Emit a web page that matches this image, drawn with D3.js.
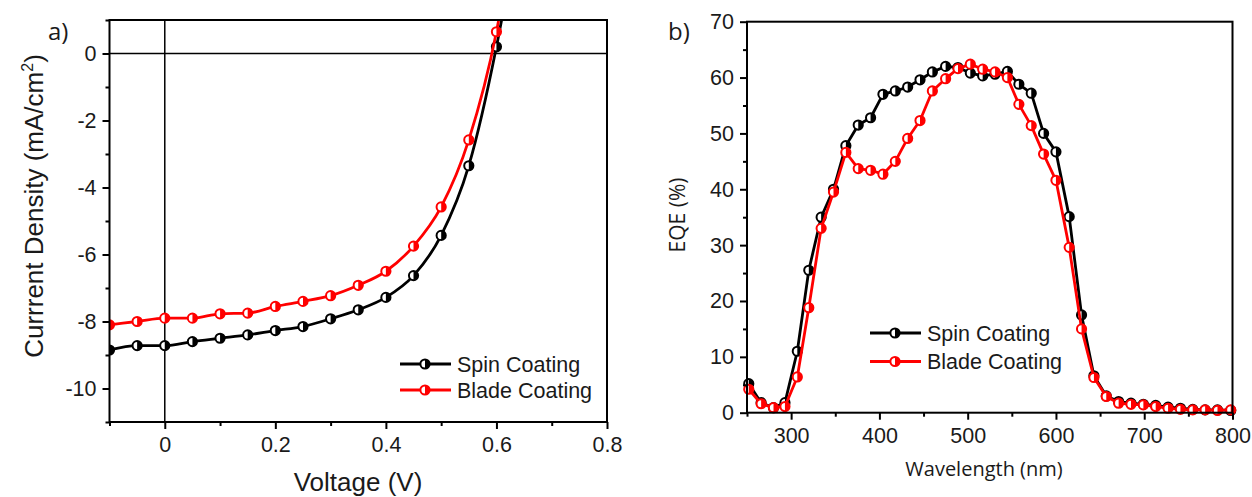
<!DOCTYPE html>
<html>
<head>
<meta charset="utf-8">
<script src="https://cdn.jsdelivr.net/npm/d3@7"></script>
<style>
  html, body { margin: 0; padding: 0; background: #fff; }
  svg { display: block; }
</style>
</head>
<body>
<script>
// ---- J–V data (panel a) ----
const voltage = [-0.1, -0.05, 0, 0.05, 0.1, 0.15, 0.2, 0.25, 0.3, 0.35, 0.4, 0.45, 0.5, 0.55, 0.6, 0.625];
const spinJ   = [-8.85, -8.72, -8.72, -8.6, -8.5, -8.4, -8.27, -8.15, -7.92, -7.65, -7.28, -6.63, -5.43, -3.35, 0.2, 2.4];
const bladeJ  = [-8.1, -8.0, -7.9, -7.9, -7.77, -7.75, -7.55, -7.4, -7.23, -6.92, -6.5, -5.75, -4.58, -2.58, 0.65, 3.0];
const jvMarkerMaxV = 0.6;

// ---- EQE data (panel b) ----
const wavelength = [252, 266, 280, 293, 307, 320, 334, 348, 362, 376, 390, 404, 418, 432, 446, 460, 475, 489, 503, 517,
                    531, 545, 558, 572, 586, 600, 615, 629, 643, 657, 671, 685, 699, 713, 727, 741, 755, 769, 783, 798];
const spinEQE  = [5.2, 1.8, 0.9, 1.8, 11.0, 25.5, 35.0, 40.0, 47.8, 51.5, 52.8, 57.0, 57.6, 58.3, 59.6, 61.0, 62.0, 61.8, 60.8, 60.3,
                  60.6, 61.1, 58.8, 57.2, 50.0, 46.7, 35.1, 17.5, 6.6, 3.0, 2.0, 1.7, 1.5, 1.3, 1.0, 0.8, 0.6, 0.5, 0.5, 0.4];
const bladeEQE = [4.2, 1.6, 0.9, 1.1, 6.4, 18.8, 33.0, 39.5, 46.6, 43.7, 43.4, 42.7, 45.0, 49.1, 52.3, 57.6, 59.8, 61.6, 62.4, 61.5,
                  61.0, 60.0, 55.2, 51.4, 46.3, 41.6, 29.6, 15.0, 6.3, 2.9, 1.7, 1.5, 1.4, 1.1, 0.8, 0.6, 0.5, 0.5, 0.4, 0.5];

// ---- axis ticks ----
const jvMajorX = [0, 0.2, 0.4, 0.6, 0.8];
const jvMinorX = [-0.1, 0.1, 0.3, 0.5, 0.7];
const jvMajorY = [0, -2, -4, -6, -8, -10];
const jvMinorY = [1, -1, -3, -5, -7, -9, -11];
const eqeMajorX = [300, 400, 500, 600, 700, 800];
const eqeMinorX = [250, 350, 450, 550, 650, 750];
const eqeMajorY = [0, 10, 20, 30, 40, 50, 60, 70];
const eqeMinorY = [5, 15, 25, 35, 45, 55, 65];

const seriesNames = ["Spin Coating", "Blade Coating"];
const seriesColors = ["#000000", "#ff0000"];

const ARIAL = "'Liberation Sans', Arial, sans-serif";
const SEGOE = "'Open Sans', 'Noto Sans', sans-serif";

const svg = d3.select("body").append("svg")
  .attr("width", 1252).attr("height", 497)
  .attr("viewBox", "0 0 1252 497");

// half-filled circle marker
function drawMarker(g, cx, cy, color) {
  const r = 4.6;
  g.append("circle").attr("cx", cx).attr("cy", cy).attr("r", r)
    .attr("fill", "#fff").attr("stroke", color).attr("stroke-width", 2);
  g.append("path")
    .attr("d", `M${cx},${cy - r}A${r},${r} 0 0 1 ${cx},${cy + r}Z`)
    .attr("fill", color);
}

function fmtMinus(d) { return String(d).replace("\u2212", "-"); }

function drawAxes(g, x, y, opts) {
  const [x0, x1] = x.range();
  const [y0, y1] = y.range();
  const tickStyle = sel => {
    sel.select(".domain").remove();
    sel.selectAll(".tick line").attr("stroke", "#000").attr("stroke-width", 2);
    sel.selectAll(".tick text").attr("font-family", ARIAL).attr("font-size", 21.5).attr("fill", "#1a1a1a");
  };
  g.append("g").attr("transform", `translate(0,${y0})`)
    .call(d3.axisBottom(x).tickValues(opts.majorX).tickSize(7).tickPadding(8)
      .tickFormat(d => fmtMinus(opts.fmtX(d))))
    .call(tickStyle);
  g.append("g").attr("transform", `translate(0,${y0})`)
    .call(d3.axisBottom(x).tickValues(opts.minorX).tickSize(4).tickFormat(""))
    .call(tickStyle);
  g.append("g").attr("transform", `translate(${x0},0)`)
    .call(d3.axisLeft(y).tickValues(opts.majorY).tickSize(7).tickPadding(6)
      .tickFormat(d => fmtMinus(opts.fmtY(d))))
    .call(tickStyle);
  g.append("g").attr("transform", `translate(${x0},0)`)
    .call(d3.axisLeft(y).tickValues(opts.minorY.filter(v => v >= y.domain()[0] && v <= y.domain()[1]))
      .tickSize(4).tickFormat(""))
    .call(tickStyle);
  g.append("rect")
    .attr("x", x0).attr("y", y1).attr("width", x1 - x0).attr("height", y0 - y1)
    .attr("fill", "none").attr("stroke", "#000").attr("stroke-width", 2);
}

function drawLegend(g, x, y, rowGap) {
  seriesNames.forEach((name, i) => {
    const cy = y + i * rowGap;
    g.append("line").attr("x1", x).attr("x2", x + 51).attr("y1", cy).attr("y2", cy)
      .attr("stroke", seriesColors[i]).attr("stroke-width", 3);
    drawMarker(g, x + 25, cy, seriesColors[i]);
    g.append("text").attr("x", x + 57).attr("y", cy + 7.7)
      .attr("font-family", ARIAL).attr("font-size", 21.5).attr("fill", "#1a1a1a")
      .text(name);
  });
}

// ================= Panel a: J–V =================
{
  const x = d3.scaleLinear([-0.1, 0.8], [109.5, 607]);
  const y = d3.scaleLinear([-11, 1], [422, 20]);
  const g = svg.append("g");

  g.append("defs").append("clipPath").attr("id", "clipA")
    .append("rect").attr("x", x(-0.1)).attr("y", y(1)).attr("width", x(0.8) - x(-0.1)).attr("height", y(-11) - y(1));

  // zero reference lines
  g.append("line").attr("x1", x(-0.1)).attr("x2", x(0.8)).attr("y1", y(0)).attr("y2", y(0))
    .attr("stroke", "#000").attr("stroke-width", 1.5);
  g.append("line").attr("x1", x(0)).attr("x2", x(0)).attr("y1", y(1)).attr("y2", y(-11))
    .attr("stroke", "#000").attr("stroke-width", 1.5);

  const data = [spinJ, bladeJ];
  const plot = g.append("g").attr("clip-path", "url(#clipA)");
  data.forEach((vals, i) => {
    const pts = voltage.map((v, k) => [v, vals[k]]);
    plot.append("path")
      .attr("d", d3.line().x(d => x(d[0])).y(d => y(d[1])).curve(d3.curveMonotoneX)(pts))
      .attr("fill", "none").attr("stroke", seriesColors[i]).attr("stroke-width", 2.8);
    const mg = plot.append("g");
    pts.filter(d => d[0] <= jvMarkerMaxV + 1e-9).forEach(d => drawMarker(mg, x(d[0]), y(d[1]), seriesColors[i]));
  });

  drawAxes(g, x, y, {
    majorX: jvMajorX, minorX: jvMinorX, majorY: jvMajorY, minorY: jvMinorY,
    fmtX: d => d === 0 ? "0" : d3.format(".1f")(d),
    fmtY: d => d3.format("d")(d)
  });

  drawLegend(g, 400, 364, 26);

  g.append("text").attr("x", 358).attr("y", 491).attr("text-anchor", "middle")
    .attr("font-family", ARIAL).attr("font-size", 26).attr("fill", "#1a1a1a").text("Voltage (V)");

  const yt = g.append("text").attr("transform", "translate(43,206) rotate(-90)").attr("text-anchor", "middle")
    .attr("font-family", ARIAL).attr("font-size", 26).attr("fill", "#1a1a1a");
  yt.append("tspan").text("Currrent Density (mA/cm");
  yt.append("tspan").attr("font-size", 16).attr("dy", -10).text("2");
  yt.append("tspan").attr("dy", 10).text(")");

  g.append("text").attr("x", 48).attr("y", 40)
    .attr("font-family", SEGOE).attr("font-size", 24).attr("fill", "#1a1a1a").text("a)");
}

// ================= Panel b: EQE =================
{
  const x = d3.scaleLinear([250, 800], [747, 1232.5]);
  const y = d3.scaleLinear([0, 70], [412.7, 21.7]);
  const g = svg.append("g");

  const data = [spinEQE, bladeEQE];
  data.forEach((vals, i) => {
    const pts = wavelength.map((w, k) => [w, vals[k]]);
    g.append("path")
      .attr("d", d3.line().x(d => x(d[0])).y(d => y(d[1]))(pts))
      .attr("fill", "none").attr("stroke", seriesColors[i]).attr("stroke-width", 2.8)
      .attr("stroke-linejoin", "round");
    const mg = g.append("g");
    pts.forEach(d => drawMarker(mg, x(d[0]), y(d[1]), seriesColors[i]));
  });

  drawAxes(g, x, y, {
    majorX: eqeMajorX, minorX: eqeMinorX, majorY: eqeMajorY, minorY: eqeMinorY,
    fmtX: d => d3.format("d")(d),
    fmtY: d => d3.format("d")(d)
  });

  drawLegend(g, 870, 333, 28.5);

  g.append("text").attr("x", 984).attr("y", 476).attr("text-anchor", "middle")
    .attr("font-family", SEGOE).attr("font-size", 20).attr("fill", "#1a1a1a").text("Wavelength (nm)");
  g.append("text").attr("transform", "translate(685,215) rotate(-90)").attr("text-anchor", "middle")
    .attr("font-family", SEGOE).attr("font-size", 21).attr("fill", "#1a1a1a").text("EQE (%)");

  g.append("text").attr("x", 668).attr("y", 40)
    .attr("font-family", SEGOE).attr("font-size", 24).attr("fill", "#1a1a1a").text("b)");
}
</script>
</body>
</html>
